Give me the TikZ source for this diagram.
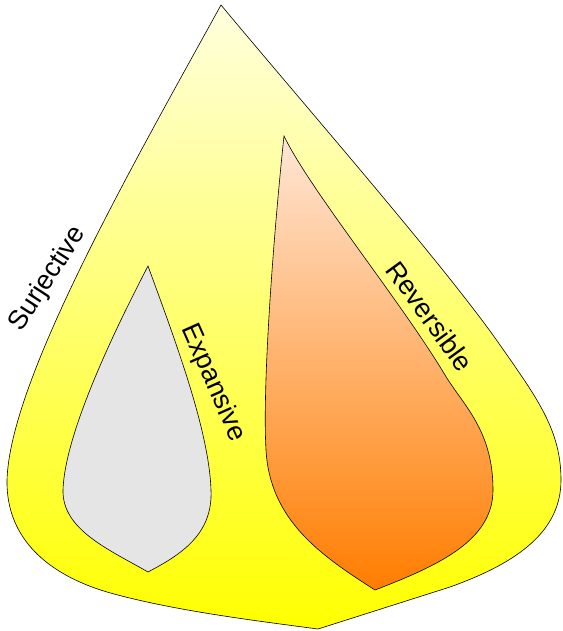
\documentclass[tikz,border=0pt]{standalone}
\usepackage{fontspec}
\setmainfont{Liberation Sans}
\begin{document}
\begin{tikzpicture}[x=1pt,y=-1pt,
  outline/.style={draw=black,line width=0.6pt,line join=miter},
  lbl/.style={inner sep=0pt,font=\fontsize{27}{27}\selectfont}]
\definecolor{ytop}{RGB}{255,255,222}
\definecolor{ybot}{RGB}{255,255,0}
\definecolor{otop}{RGB}{255,230,214}
\definecolor{obot}{RGB}{255,125,0}
\definecolor{gfill}{RGB}{229,229,229}
\useasboundingbox (0,0) rectangle (562,631);
% outer surjective region
\path[outline,top color=ytop,bottom color=ybot]
  (221,5) .. controls (130,170) and (10,380) .. (7,480)
  .. controls (6,540) and (50,575) .. (107,592)
  .. controls (170,610) and (250,620) .. (318,629)
  -- (450,587)
  .. controls (520,562) and (561,530) .. (561,480)
  .. controls (561,430) and (537,398) .. (500,345)
  .. controls (445,266) and (300,100) .. (221,5) -- cycle;
% expansive region
\path[outline,fill=gfill]
  (148,266) .. controls (120,320) and (65,430) .. (63,490)
  .. controls (62,530) and (110,550) .. (148,572)
  .. controls (180,555) and (213,535) .. (211,490)
  .. controls (209,430) and (175,340) .. (148,266) -- cycle;
% reversible region
\path[outline,top color=otop,bottom color=obot]
  (284,136) .. controls (275,220) and (262,380) .. (266,450)
  .. controls (270,520) and (320,555) .. (375,590)
  .. controls (440,565) and (493,540) .. (493,490)
  .. controls (493,430) and (463,405) .. (445,375)
  .. controls (400,300) and (310,190) .. (284,136) -- cycle;
\node[lbl,rotate=57] (surj) at (48,279) {Surjective};
\node[lbl,rotate=-66] (exp) at (213,383) {Expansive};
\node[lbl,rotate=-54] (rev) at (430,316) {Reversible};
\end{tikzpicture}
\end{document}
